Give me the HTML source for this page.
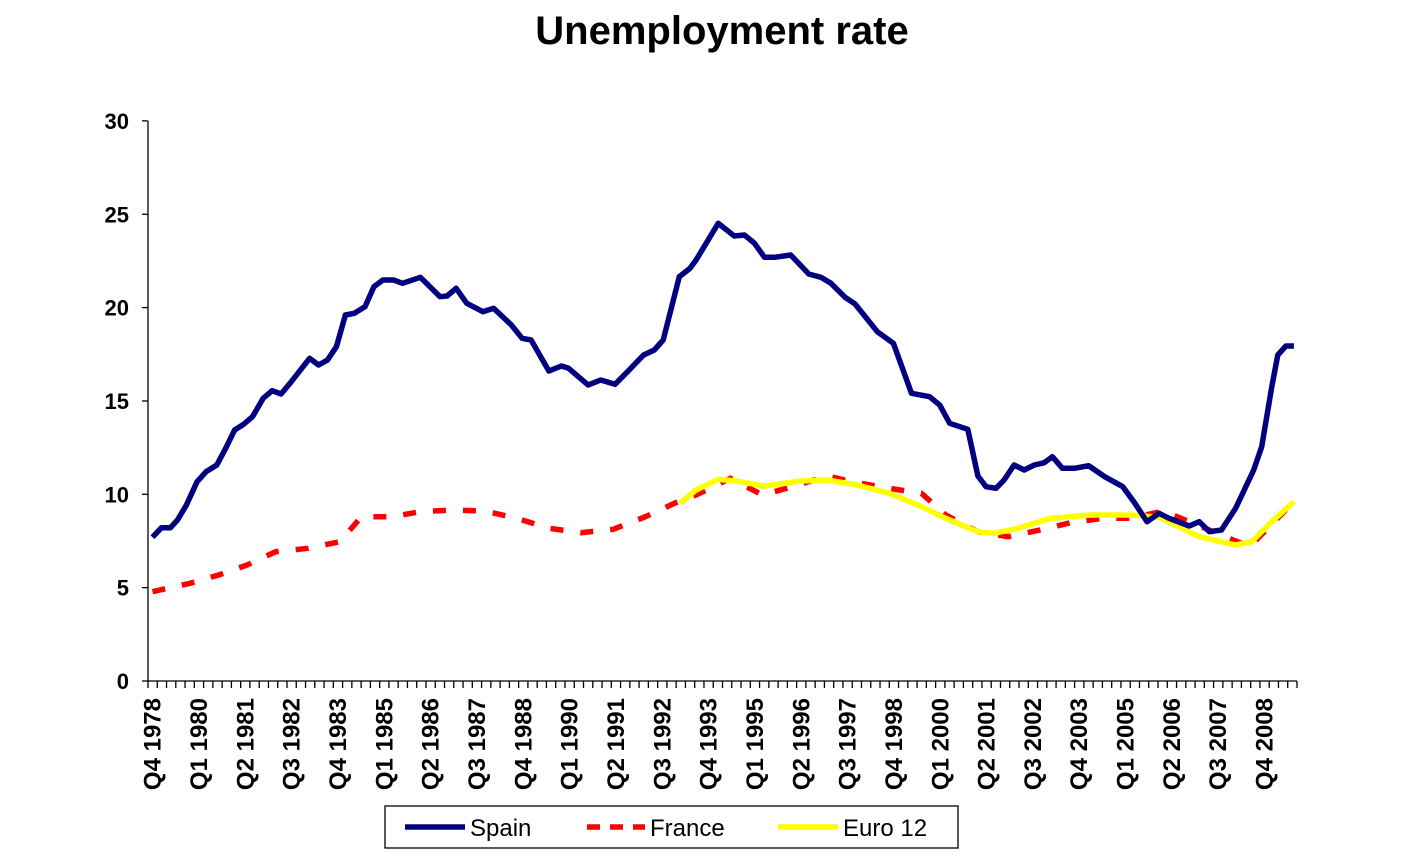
<!DOCTYPE html>
<html><head><meta charset="utf-8"><style>
html,body{margin:0;padding:0;background:#fff;}
svg{display:block;font-family:"Liberation Sans",Arial,sans-serif;}
</style></head><body>
<svg id="s" width="1419" height="857" viewBox="0 0 1419 857">
<text x="722" y="44" text-anchor="middle" font-size="40" font-weight="bold">Unemployment rate</text>
<g id="ax" stroke="#000" stroke-width="1.3"></g>
<g id="lab" font-weight="bold"></g>
<path id="fr" fill="none" stroke="#ff0000" stroke-width="5.5" stroke-dasharray="13 17"/>
<path id="eu" fill="none" stroke="#ffff00" stroke-width="5.5" stroke-linejoin="round"/>
<path id="sp" fill="none" stroke="#000080" stroke-width="5.5" stroke-linejoin="round"/>
<rect x="385" y="806" width="573" height="42" fill="#fff" stroke="#000" stroke-width="1.3"/>
<line x1="405" y1="827" x2="465" y2="827" stroke="#000080" stroke-width="5.5"/>
<text x="470" y="836" font-size="24">Spain</text>
<line x1="587" y1="827" x2="645" y2="827" stroke="#ff0000" stroke-width="5.5" stroke-dasharray="13 10"/>
<text x="650" y="836" font-size="24">France</text>
<line x1="778" y1="827" x2="838" y2="827" stroke="#ffff00" stroke-width="5.5"/>
<text x="843" y="836" font-size="24">Euro 12</text>
</svg>
<script>
var NS="http://www.w3.org/2000/svg";
function el(p,t,a,txt){var e=document.createElementNS(NS,t);for(var k in a)e.setAttribute(k,a[k]);if(txt!=null)e.textContent=txt;p.appendChild(e);return e;}
var ax=document.getElementById('ax'),lab=document.getElementById('lab');
var x0=148,x1=1297,y0=681,yu=18.67,n=124,w=(x1-x0)/n;
el(ax,'line',{x1:x0,y1:121,x2:x0,y2:y0});
el(ax,'line',{x1:x0,y1:y0,x2:x1,y2:y0});
for(var v=0;v<=30;v+=5){var y=y0-v*yu;el(ax,'line',{x1:x0-6,y1:y,x2:x0,y2:y});
 el(lab,'text',{x:129,y:y+8,'text-anchor':'end','font-size':22},String(v));}
for(var j=0;j<=n;j++){var x=x0+w*j;el(ax,'line',{x1:x,y1:y0,x2:x,y2:y0+7});}
var Q=["Q1","Q2","Q3","Q4"];
for(var k=0;k<25;k++){var i=5*k;var q=(3+i)%4;var yr=1978+Math.floor((3+i)/4);
 var x=x0+w*(i+0.5)+8;el(lab,'text',{x:0,y:0,'text-anchor':'end','font-size':24,transform:'translate('+x+',698) rotate(-90)'},Q[q]+" "+yr);}
function conv(a,ox,sx){var r=[];for(var i=0;i<a.length;i+=2)r.push([ox+a[i]/sx,200+a[i+1]/3]);return r;}
function d(p){return p.map(function(q,i){return (i?'L':'M')+q[0].toFixed(1)+' '+q[1].toFixed(1);}).join(' ');}
var sp3=[35,1012,60,983,85,983,105,960,130,915,160,845,185,815,215,795,240,745,265,690,290,673,315,650,345,595,370,572,395,582,420,550,475,475,500,495,525,480,550,440,575,345,600,340,630,320,655,260,680,240,710,240,735,250,785,232,840,290,860,288,885,265,915,310,960,335,990,325,1040,375,1070,415,1095,420,1145,513,1180,498,1200,505,1255,555,1290,540,1330,553,1365,515,1410,465,1440,450,1465,420,1510,230,1540,205];
var sp4=[40,180,95,70,135,108,160,105,185,130,210,172,235,172,275,165,320,222,350,232,375,250,410,292,435,312,490,395,530,430,575,580,620,590,645,615,670,670,715,688,740,828,760,860,785,865,805,840,830,795,855,810,880,795,905,788,925,770,950,805,980,805,1015,797,1055,830,1100,860,1130,910,1160,965,1190,940,1215,955,1265,978,1290,965,1315,995,1345,990,1380,925,1425,810,1445,740,1470,560,1485,465,1505,438,1525,438];
var fr3=[35,1175,140,1150,220,1125,300,1095,380,1055,470,1045,560,1025,620,950,705,950,785,935,875,930,965,933,1055,955,1145,985,1235,998,1325,988,1415,950,1500,908];
var fr4=[40,885,125,835,205,885,285,858,365,828,440,848,520,865,600,880,660,945,740,995,815,1010,895,990,970,968,1050,955,1120,955,1200,933,1275,970,1350,1008,1415,1040,1480,960,1525,905];
var eu4=[0,910,40,870,95,838,140,843,210,858,300,843,365,840,440,855,520,880,600,920,660,955,740,995,780,1000,840,985,920,955,1020,945,1120,945,1190,952,1230,975,1290,1010,1380,1035,1420,1025,1470,965,1525,905];
var s4=2.484;
document.getElementById('sp').setAttribute('d',d(conv(sp3,140,2.8).concat(conv(sp4,680,s4))));
document.getElementById('fr').setAttribute('d',d(conv(fr3,140,2.8).concat(conv(fr4,680,s4))));
document.getElementById('eu').setAttribute('d',d(conv(eu4,680,s4)));
</script>
</body></html>
